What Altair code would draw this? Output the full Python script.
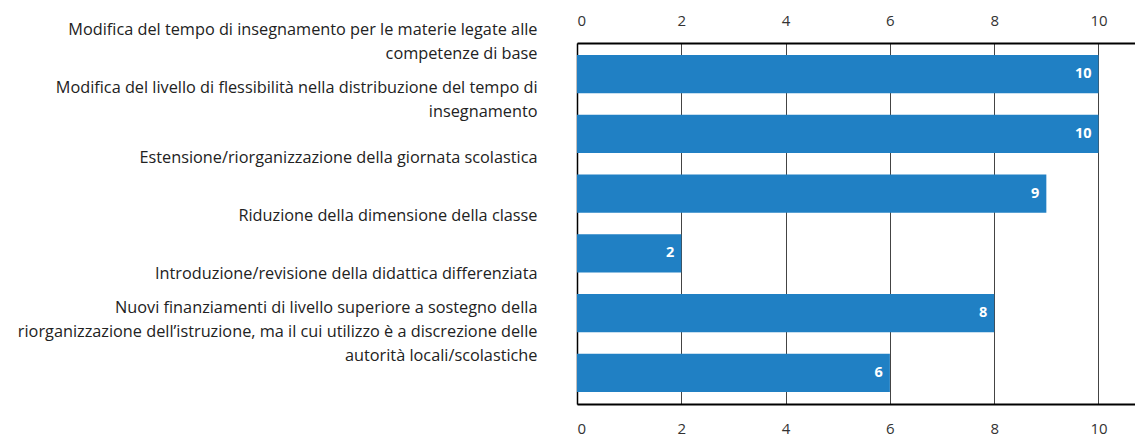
import json
import altair as alt
import pandas as pd

categories = [
    "Modifica del tempo di insegnamento per le materie legate alle|competenze di base",
    "Modifica del livello di flessibilità nella distribuzione del tempo di|insegnamento",
    "Estensione/riorganizzazione della giornata scolastica",
    "Riduzione della dimensione della classe",
    "Introduzione/revisione della didattica differenziata",
    "Nuovi finanziamenti di livello superiore a sostegno della|riorganizzazione dell’istruzione, ma il cui utilizzo è a discrezione delle|autorità locali/scolastiche",
]
values = [10, 10, 9, 2, 8, 6]
tick_values = [0, 2, 4, 6, 8, 10]

df = pd.DataFrame({"cat": categories, "val": values})

FONT = "Open Sans"
LH = 24

# labels sit above their bars and drift slightly upward down the list;
# multi-line labels are centred by lifting their first line
conds = []
for i, c in enumerate(categories):
    n = len(c.split("|"))
    off = -32.5 - 1.75 * i - (n - 1) * LH / 2
    conds.append({"test": f"datum.value == {json.dumps(c)}", "value": off})

xscale = alt.Scale(domain=[0, 10.7], nice=False, zero=True)
yscale = alt.Scale(paddingInner=0.36, paddingOuter=0.2)

y_axis = alt.Axis(
    labelExpr="split(datum.label, '|')",
    labelAlign="right",
    labelBaseline="middle",
    labelPadding=40,
    labelOffset={"condition": conds, "value": -39},
    labelFont=FONT,
    labelFontSize=16.3,
    labelColor="#222",
    labelLineHeight=LH,
    labelLimit=700,
    labelOverlap=False,
    ticks=False,
    grid=False,
    domain=True,
    domainColor="#000",
    domainWidth=1.5,
)

bars = alt.Chart(df).mark_bar(color="#2080c4").encode(
    x=alt.X(
        "val:Q",
        scale=xscale,
        title=None,
        axis=alt.Axis(
            orient="bottom",
            values=tick_values,
            grid=True,
            gridColor="#444",
            gridWidth=1,
            ticks=False,
            tickSize=0,
            domainColor="#000",
            domainWidth=2,
            labelPadding=17,
            labelFont=FONT,
            labelFontSize=15,
            labelColor="#333",
        ),
    ),
    y=alt.Y("cat:N", sort=None, title=None, scale=yscale, axis=y_axis),
)

text = alt.Chart(df).mark_text(
    align="right",
    baseline="middle",
    dx=-7,
    color="white",
    font=FONT,
    fontWeight="bold",
    fontSize=14.5,
).encode(
    x=alt.X(
        "val:Q",
        scale=xscale,
        title=None,
        axis=alt.Axis(
            orient="top",
            values=tick_values,
            grid=False,
            ticks=False,
            tickSize=0,
            domainColor="#000",
            domainWidth=2,
            labelPadding=15,
            labelFont=FONT,
            labelFontSize=15,
            labelColor="#333",
        ),
    ),
    y=alt.Y("cat:N", sort=None, title=None, scale=yscale),
    text="val:Q",
)

chart = (
    alt.layer(bars, text)
    .resolve_axis(x="independent")
    .properties(
        width=558,
        height=361,
        padding={"left": 569, "top": 35, "right": 0, "bottom": 34},
        autosize=alt.AutoSizeParams(type="none"),
    )
    .configure_view(stroke=None)
)

chart.save("out.html", embed_options={"renderer": "svg", "actions": False})
